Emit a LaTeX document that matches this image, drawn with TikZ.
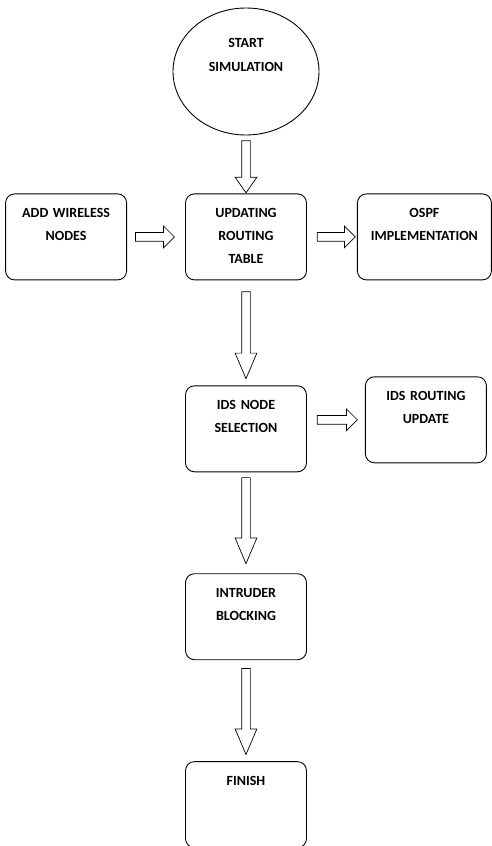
\documentclass[tikz,border=0pt]{standalone}
\usepackage{fontspec}
\setmainfont{Carlito}
\usetikzlibrary{shapes.geometric, shapes.arrows, positioning, calc}

\begin{document}
\begin{tikzpicture}[
			x=1pt, y=1pt,
			node distance=50pt,
			stepbox/.style={
				rectangle,
				draw,
				minimum width=121pt,
				text width=113pt,
				align=center,
				inner sep=4pt,
				text height=19.4pt,
				text depth=58.6pt,
				rounded corners=9pt,
				font=\fontsize{14}{23}\selectfont\bfseries,
				line width=0.9pt
			},
			startbox/.style={
				ellipse,
				draw,
				minimum width=146pt,
				minimum height=127pt,
				inner sep=0pt,
				text width=90pt,
				align=center,
				text height=10pt,
				text depth=58pt,
				font=\fontsize{14}{24}\selectfont\bfseries,
				line width=0.9pt
			},
			fat/.style={
				to path={
					let \p1=(\tikztostart), \p2=(\tikztotarget),
					\n1={veclen(\x2-\x1,\y2-\y1)}, \n2={atan2(\y2-\y1,\x2-\x1)}
					in node[single arrow, draw, line width=0.7pt,
					inner xsep=0pt, inner ysep=4pt,
					single arrow head extend=6.5pt,
					single arrow tip angle=#1, minimum height=\n1,
					anchor=tail, rotate=\n2] at (\p1) {}
				}
			},
			fat/.default=90
			]
			
			\useasboundingbox (0,0) rectangle (492,-846);
			
			% Start Simulation (top)
			\node[startbox] (start) at (246,-71.5) {START\\SIMULATION};
			
			% Updating Routing Table (middle)
			\node[stepbox, below=58pt of start] (upd) {UPDATING\\ROUTING\\TABLE};
			\path ([yshift=-5pt]start.south) to[fat=70] ([yshift=1pt]upd.north);
			
			% Add Wireless Nodes (left)
			\node[stepbox, left=58pt of upd] (add) {ADD WIRELESS\\NODES};
			\path ([xshift=8pt]add.east) to[fat] ([xshift=-11pt]upd.west);
			
			% OSPF Implementation (right)
			\node[stepbox, minimum width=134pt, text width=126pt, right=50pt of upd] (ospf) {OSPF\\IMPLEMENTATION};
			\path ([xshift=10pt]upd.east) to[fat] ([xshift=-2pt]ospf.west);
			
			% IDS Node Selection
			\node[stepbox, below=105pt of upd] (ids) {IDS NODE\\SELECTION};
			\path ([yshift=-11pt]upd.south) to[fat=46] ([yshift=7pt]ids.north);
			
			% IDS Routing Update (right)
			\node[stepbox, right=58pt of ids, yshift=9pt] (idsr) {IDS ROUTING\\UPDATE};
			\path ([xshift=10pt]ids.east |- idsr.west) to[fat] ([xshift=-8pt]idsr.west);
			
			% Intruder Blocking
			\node[stepbox, below=101pt of ids] (intr) {INTRUDER\\BLOCKING};
			\path ([yshift=-5pt]ids.south) to[fat=46] ([yshift=10pt]intr.north);
			
			% Finish
			\node[stepbox, below=101pt of intr] (fin) {FINISH};
			\path ([yshift=-8pt]intr.south) to[fat=46] ([yshift=7pt]fin.north);
			
		\end{tikzpicture}
\end{document}
